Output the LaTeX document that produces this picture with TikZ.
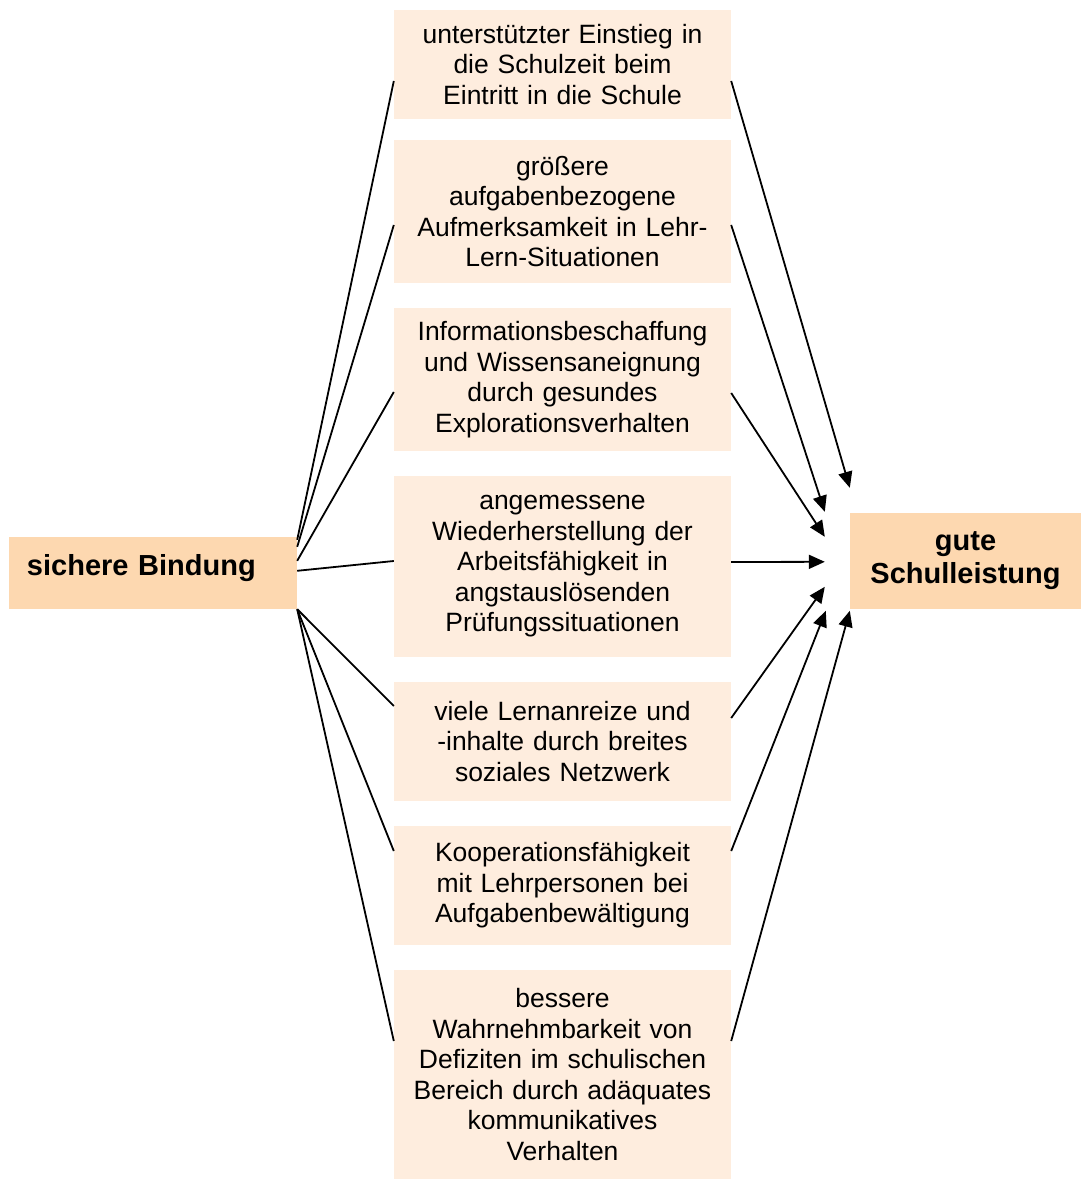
\documentclass[tikz,border=0pt]{standalone}
\usepackage{fontspec}
\setmainfont{Liberation Sans}
\usetikzlibrary{arrows.meta,calc}
\definecolor{peach}{HTML}{FDD8B0}
\definecolor{cream}{HTML}{FEEDDE}
\begin{document}
\begin{tikzpicture}[x=1pt,y=-1pt,
  midbox/.style={fill=cream, minimum width=337pt, text width=330pt, align=center,
    inner sep=0pt, font=\fontsize{26.5}{30.5}\selectfont},
  keybox/.style={fill=peach, inner sep=0pt, font=\bfseries\fontsize{29}{33}\selectfont},
  link/.style={line width=1.8pt},
  arrow/.style={line width=1.8pt, -{Triangle[length=16pt,width=14pt]}}]
\useasboundingbox (0,0) rectangle (1082,1180);

% source and target
\node[keybox, minimum width=288pt, minimum height=72pt, text width=252pt, align=left,
      text depth=17pt] (bind) at (153,573) {sichere Bindung};
\node[keybox, minimum width=231pt, minimum height=96pt, text width=225pt, align=center]
      (gs) at (965.5,561) {gute\\Schulleistung};

% mediating factors
\node[midbox, minimum height=109pt] (m1) at (562.5,64.5)
  {unterstützter Einstieg in\\die Schulzeit beim\\Eintritt in die Schule};
\node[midbox, minimum height=143pt] (m2) at (562.5,211.5)
  {größere\\aufgabenbezogene\\Aufmerksamkeit in Lehr-\\Lern-Situationen};
\node[midbox, minimum height=143pt] (m3) at (562.5,379.5)
  {Informationsbeschaffung\\und Wissensaneignung\\durch gesundes\\Explorationsverhalten};
\node[midbox, minimum height=181pt] (m4) at (562.5,566.5)
  {angemessene\\Wiederherstellung der\\Arbeitsfähigkeit in\\angstauslösenden\\Prüfungssituationen};
\node[midbox, minimum height=119pt] (m5) at (562.5,741.5)
  {viele Lernanreize und\\-inhalte durch breites\\soziales Netzwerk};
\node[midbox, minimum height=119pt] (m6) at (562.5,885.5)
  {Kooperationsfähigkeit\\mit Lehrpersonen bei\\Aufgabenbewältigung};
\node[midbox, minimum height=209pt] (m7) at (562.5,1074.5)
  {bessere\\Wahrnehmbarkeit von\\Defiziten im schulischen\\Bereich durch adäquates\\kommunikatives\\Verhalten};

% arrow tips around the target box
\coordinate (t1) at ($(gs.north west)+(0,-25)$);
\coordinate (t2) at ($(gs.north west)+(-25,-1)$);
\coordinate (t3) at ($(gs.north west)+(-25,24)$);
\coordinate (t4) at ($(gs.north west)+(-25,49)$);
\coordinate (t5) at ($(gs.north west)+(-25,74)$);
\coordinate (t6) at ($(gs.north west)+(-24,98)$);
\coordinate (t7) at ($(gs.north west)+(0,98)$);

% links from the source
\draw[link] ($(bind.north east)+(0,3)$)  -- ($(m1.west)+(0,16.5)$);
\draw[link] ($(bind.north east)+(0,10)$) -- ($(m2.west)+(0,13.5)$);
\draw[link] ($(bind.north east)+(0,24)$) -- ($(m3.west)+(0,12.5)$);
\draw[link] ($(bind.north east)+(0,34)$) -- ($(m4.west)+(0,-5.5)$);
\draw[link] (bind.south east) -- ($(m5.west)+(0,-35.5)$);
\draw[link] (bind.south east) -- ($(m6.west)+(0,-34.5)$);
\draw[link] (bind.south east) -- ($(m7.west)+(0,-33.5)$);

% arrows to the target
\draw[arrow] ($(m1.east)+(0,16.5)$)  -- (t1);
\draw[arrow] ($(m2.east)+(0,13.5)$)  -- (t2);
\draw[arrow] ($(m3.east)+(0,13.5)$)  -- (t3);
\draw[arrow] ($(m4.east)+(0,-4.5)$)  -- (t4);
\draw[arrow] ($(m5.east)+(0,-23.5)$) -- (t5);
\draw[arrow] ($(m6.east)+(0,-34.5)$) -- (t6);
\draw[arrow] ($(m7.east)+(0,-33.5)$) -- (t7);
\end{tikzpicture}
\end{document}
